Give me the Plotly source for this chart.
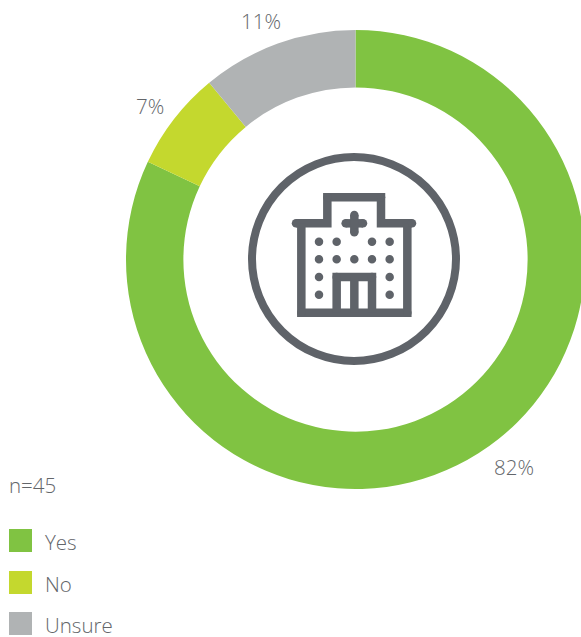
import plotly.graph_objects as go

categories = ["Yes", "No", "Unsure"]
values = [82, 7, 11]
colors = ["#80c342", "#c4d82e", "#b0b3b4"]
value_labels = ["82%", "7%", "11%"]
note = "n=45"

W, H = 590, 650
ICON = "#5f6369"
TEXT = "#63666a"
FONT = "Open Sans"
WEIGHT = 300
SIZE = 20.5


def px(x):
    return x / W


def py(y):
    return 1 - y / H


def zx(x):
    return 240 + x / 3


def zy(y):
    return 145 + y / 3


shapes = []
annotations = []


def stroke_path(points, width=8.5):
    d = "M " + " L ".join(f"{px(zx(a))},{py(zy(b))}" for a, b in points)
    shapes.append(dict(type="path", xref="paper", yref="paper", path=d,
                       line=dict(color=ICON, width=width)))


def dot(cx, cy, r=4.25):
    shapes.append(dict(type="circle", xref="paper", yref="paper",
                       x0=px(zx(cx) - r), x1=px(zx(cx) + r),
                       y0=py(zy(cy) + r), y1=py(zy(cy) - r),
                       fillcolor=ICON, line=dict(width=0)))


# ring
shapes.append(dict(type="circle", xref="paper", yref="paper",
                   x0=px(354 - 102), x1=px(354 + 102), y0=py(259 + 102), y1=py(259 - 102),
                   line=dict(color=ICON, width=8), fillcolor="rgba(0,0,0,0)"))
# building
stroke_path([(168, 235), (262, 235), (262, 157), (423, 157), (423, 235), (516, 235)])
stroke_path([(184, 235), (184, 503), (502, 503), (502, 235)])
stroke_path([(290, 503), (290, 396), (396, 396), (396, 503)])
stroke_path([(343, 396), (343, 503)])
stroke_path([(317, 235), (369, 235)])
stroke_path([(343, 210), (343, 262)])
for c in [(168, 235), (516, 235), (317, 235), (369, 235), (343, 210), (343, 262),
          (262, 157), (423, 157), (184, 503), (502, 503), (290, 396), (396, 396)]:
    dot(*c)
for row_y, xs in [(290, [237, 290, 396, 449]), (343, [237, 290, 343, 396, 449]),
                  (396, [237, 449]), (449, [237, 449])]:
    for x in xs:
        dot(x, row_y)

font = dict(family=FONT, size=SIZE, color=TEXT, weight=WEIGHT)

# legend
for name, col, top in zip(categories, colors, [529, 571, 612]):
    shapes.append(dict(type="rect", xref="paper", yref="paper",
                       x0=px(9), x1=px(32), y0=py(top + 23), y1=py(top),
                       fillcolor=col, line=dict(width=0)))
    annotations.append(dict(text=name, xref="paper", yref="paper", x=px(43), y=py(top + 13),
                            xanchor="left", yanchor="middle", showarrow=False, font=font))

annotations.append(dict(text=note, xref="paper", yref="paper", x=px(7), y=py(485),
                        xanchor="left", yanchor="middle", showarrow=False, font=font))
for lab, (lx, ly) in zip(value_labels, [(513.5, 466.5), (150, 106), (260.5, 21)]):
    annotations.append(dict(text=lab, xref="paper", yref="paper", x=px(lx), y=py(ly),
                            xanchor="center", yanchor="middle", showarrow=False, font=font))

fig = go.Figure(go.Pie(
    labels=categories, values=values, hole=0.75, sort=False, direction="clockwise", rotation=0,
    marker=dict(colors=colors, line=dict(width=0)), textinfo="none", hoverinfo="skip",
    domain=dict(x=[126 / W, 585 / W], y=[(H - 489) / H, (H - 30) / H]),
))
fig.update_layout(width=W, height=H, margin=dict(l=0, r=0, t=0, b=0), showlegend=False,
                  paper_bgcolor="white", shapes=shapes, annotations=annotations)
fig.write_html("out.html", config={"displayModeBar": False},
               post_script="document.documentElement.style.overflow='hidden';document.body.style.overflow='hidden';document.body.style.margin='0';")
